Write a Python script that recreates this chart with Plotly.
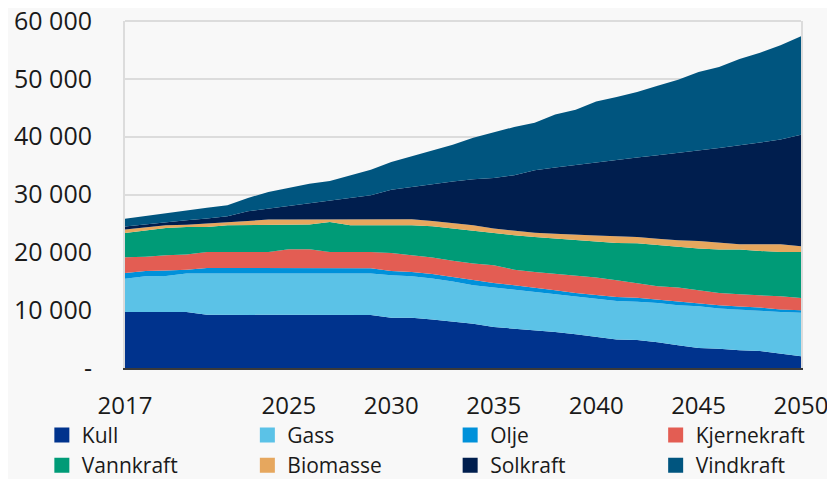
import plotly.graph_objects as go

years = list(range(2017, 2051))

kull = [9700, 9700, 9700, 9700, 9200, 9200, 9200, 9200, 9150, 9150, 9150, 9150, 9150,
        8710, 8710, 8370, 7960, 7670, 7090, 6810, 6400, 6230, 5830, 5360, 4910, 4820,
        4450, 3930, 3460, 3350, 3060, 2940, 2490, 2020]
gass = [5750, 6150, 6210, 6620, 7120, 7120, 7120, 7120, 7170, 7170, 7170, 7170, 7170,
        7320, 7150, 7090, 6990, 6630, 6810, 6750, 6740, 6510, 6570, 6640, 6680, 6630,
        6790, 6910, 7210, 6950, 7040, 6860, 7190, 7540]
olje = [980, 930, 940, 690, 980, 980, 980, 980, 930, 930, 930, 930, 930,
        750, 740, 790, 750, 860, 800, 740, 760, 700, 570, 690, 690, 700,
        580, 570, 460, 540, 550, 640, 420, 420]
kjernekraft = [2720, 2470, 2640, 2600, 2760, 2760, 2760, 2760, 3280, 3280, 2810, 2810, 2810,
               3110, 2890, 2840, 2850, 2890, 3060, 2710, 2700, 2880, 3060, 2940, 2880, 2500,
               2310, 2490, 2310, 2130, 2090, 2130, 2300, 2120]
vannkraft = [4200, 4560, 4720, 4770, 4320, 4620, 4620, 4620, 4150, 4270, 5190, 4620, 4620,
             4790, 5190, 5410, 5550, 5640, 5480, 5940, 6060, 6050, 6050, 6160, 6450, 6910,
             7090, 7020, 7210, 7500, 7730, 7660, 7660, 7960]
biomasse = [580, 460, 470, 370, 590, 570, 690, 980, 1000, 900, 450, 1020, 1020,
            1020, 1020, 920, 970, 990, 860, 740, 730, 830, 920, 1110, 1190, 1100,
            1150, 1160, 1310, 1140, 920, 1160, 1330, 980]
solkraft = [520, 580, 570, 790, 860, 980, 1730, 1900, 2450, 2830, 3300, 3700, 4160,
            5100, 5600, 6330, 7180, 7970, 8750, 9630, 10800, 11450, 12100, 12730, 13230, 13740,
            14410, 15100, 15680, 16430, 17120, 17580, 18100, 19310]
vindkraft = [1350, 1440, 1560, 1730, 1900, 1900, 2300, 2880, 3020, 3350, 3340, 3920, 4440,
             4830, 5350, 5850, 6350, 7150, 7950, 8350, 8210, 9200, 9570, 10450, 10830, 11330,
             12020, 12640, 13540, 14010, 14940, 15530, 16310, 17000]

series_names = ["Kull", "Gass", "Olje", "Kjernekraft", "Vannkraft", "Biomasse", "Solkraft", "Vindkraft"]
series_values = [kull, gass, olje, kjernekraft, vannkraft, biomasse, solkraft, vindkraft]
colors = ["#00338D", "#5BC2E7", "#0091DA", "#E35D53", "#009B77", "#E6A75E", "#001E4E", "#00557F"]

x_tickvals = [2017, 2025, 2030, 2035, 2040, 2045, 2050]
y_tickvals = [0, 10000, 20000, 30000, 40000, 50000, 60000]
y_ticktext = ["-", "10 000", "20 000", "30 000", "40 000", "50 000", "60 000"]

FONT = "Open Sans, Noto Sans, sans-serif"
BG = "#F8F8F8"
GRID = "#DCDCDC"

fig = go.Figure()
for name, vals, col in zip(series_names, series_values, colors):
    fig.add_trace(go.Scatter(
        x=years, y=vals, name=name, mode="lines", stackgroup="one",
        line=dict(width=0, color=col), fillcolor=col, showlegend=False,
        hoverinfo="x+y+name",
    ))

# legend: four columns, two rows (column k holds items k and k+4)
legend_ids = ["legend", "legend2", "legend3", "legend4"]
for i, (name, col) in enumerate(zip(series_names, colors)):
    fig.add_trace(go.Scatter(
        x=[None], y=[None], name=name, mode="markers",
        marker=dict(symbol="square", size=15, color=col),
        legend=legend_ids[i % 4],
    ))

legend_common = dict(
    orientation="v", xanchor="left", yanchor="top", y=-0.135,
    traceorder="normal", tracegroupgap=0,
    font=dict(family=FONT, size=21, color="#1a1a1a"),
    bgcolor="rgba(0,0,0,0)",
)
legend_x = [-0.123, 0.181, 0.481, 0.785]

fig.update_layout(
    width=835, height=479,
    margin=dict(l=117, r=42, t=13, b=119, autoexpand=False),
    paper_bgcolor=BG, plot_bgcolor=BG,
    font=dict(family=FONT, size=24, color="#1a1a1a"),
    showlegend=True,
    xaxis=dict(
        range=[2017, 2050], tickvals=x_tickvals, ticktext=[str(v) for v in x_tickvals],
        showgrid=False, zeroline=False, showline=True, linecolor="#3a3a3a", linewidth=2,
        ticks="", ticklabelstandoff=15, tickfont=dict(size=24), ticklabeloverflow="allow",
    ),
    yaxis=dict(
        range=[0, 60000], tickvals=y_tickvals, ticktext=y_ticktext,
        showgrid=True, gridcolor=GRID, gridwidth=2, zeroline=False,
        showline=True, linecolor=GRID, linewidth=2, mirror=True,
        ticks="", ticklabelstandoff=26, tickfont=dict(size=25), ticklabeloverflow="allow",
    ),
    shapes=[dict(type="line", xref="paper", x0=0, x1=1, yref="paper", y0=1, y1=1,
                 line=dict(color=GRID, width=2), layer="below")],
)
for lid, lx in zip(legend_ids, legend_x):
    fig.update_layout({lid: dict(x=lx, **legend_common)})

fig.write_html("out.html")
